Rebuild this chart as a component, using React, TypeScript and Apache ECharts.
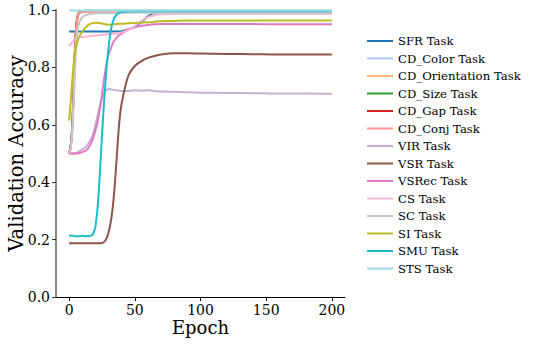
import React, { useEffect, useRef } from "react";
import * as echarts from "echarts";

const epochs = [0, 1, 2, 3, 4, 5, 6, 7, 8, 10, 12, 14, 16, 18, 20, 22, 24, 26, 28, 30, 32, 34, 36, 38, 40, 45, 50, 55, 60, 65, 70, 80, 90, 100, 120, 140, 160, 180, 200];

const seriesNames = ["SFR Task", "CD_Color Task", "CD_Orientation Task", "CD_Size Task", "CD_Gap Task", "CD_Conj Task", "VIR Task", "VSR Task", "VSRec Task", "CS Task", "SC Task", "SI Task", "SMU Task", "STS Task"];
const seriesColors = ["#1f77b4", "#aec7e8", "#ffbb78", "#2ca02c", "#d62728", "#ff9896", "#c5b0d5", "#8c564b", "#e377c2", "#f7b6d2", "#c7c7c7", "#bcbd22", "#17becf", "#9edae5"];

const sfr = [0.925, 0.925, 0.925, 0.925, 0.925, 0.925, 0.925, 0.925, 0.925, 0.925, 0.925, 0.925, 0.925, 0.925, 0.925, 0.925, 0.925, 0.925, 0.925, 0.925, 0.925, 0.925, 0.925, 0.925, 0.926, 0.932, 0.942, 0.958, 0.978, 0.99, 0.993, 0.994, 0.994, 0.994, 0.994, 0.994, 0.994, 0.994, 0.994];
const cdColor = [0.5, 0.52, 0.57, 0.68, 0.82, 0.92, 0.97, 0.988, 0.993, 0.995, 0.996, 0.996, 0.996, 0.996, 0.996, 0.996, 0.996, 0.996, 0.996, 0.996, 0.996, 0.996, 0.996, 0.996, 0.996, 0.996, 0.996, 0.996, 0.996, 0.996, 0.996, 0.996, 0.996, 0.996, 0.996, 0.996, 0.996, 0.996, 0.996];
const cdOrientation = [0.5, 0.52, 0.56, 0.66, 0.8, 0.91, 0.965, 0.985, 0.99, 0.993, 0.995, 0.995, 0.995, 0.995, 0.995, 0.995, 0.995, 0.995, 0.995, 0.995, 0.995, 0.995, 0.995, 0.995, 0.995, 0.995, 0.995, 0.995, 0.995, 0.995, 0.995, 0.995, 0.995, 0.995, 0.995, 0.995, 0.995, 0.995, 0.995];
const cdSize = [0.5, 0.52, 0.57, 0.67, 0.81, 0.92, 0.97, 0.987, 0.992, 0.995, 0.997, 0.997, 0.997, 0.997, 0.997, 0.997, 0.997, 0.997, 0.997, 0.997, 0.997, 0.997, 0.997, 0.997, 0.997, 0.997, 0.997, 0.997, 0.997, 0.997, 0.997, 0.997, 0.997, 0.997, 0.997, 0.997, 0.997, 0.997, 0.997];
const cdGap = [0.5, 0.52, 0.56, 0.66, 0.8, 0.91, 0.965, 0.985, 0.99, 0.993, 0.995, 0.995, 0.995, 0.995, 0.995, 0.995, 0.995, 0.995, 0.995, 0.995, 0.995, 0.995, 0.995, 0.995, 0.995, 0.995, 0.995, 0.995, 0.995, 0.995, 0.995, 0.995, 0.995, 0.995, 0.995, 0.995, 0.995, 0.995, 0.995];
const cdConj = [0.5, 0.52, 0.56, 0.66, 0.8, 0.91, 0.965, 0.985, 0.99, 0.993, 0.994, 0.994, 0.994, 0.994, 0.994, 0.994, 0.994, 0.994, 0.994, 0.994, 0.994, 0.994, 0.994, 0.994, 0.994, 0.994, 0.994, 0.994, 0.994, 0.994, 0.994, 0.994, 0.994, 0.994, 0.994, 0.994, 0.994, 0.994, 0.994];
const vir = [0.5, 0.5, 0.5, 0.5, 0.5, 0.501, 0.503, 0.506, 0.509, 0.514, 0.52, 0.53, 0.545, 0.565, 0.6, 0.64, 0.68, 0.705, 0.72, 0.725, 0.724, 0.721, 0.72, 0.719, 0.718, 0.718, 0.72, 0.719, 0.72, 0.718, 0.716, 0.715, 0.713, 0.712, 0.711, 0.71, 0.709, 0.709, 0.708];
const vsr = [0.187, 0.187, 0.187, 0.187, 0.187, 0.187, 0.187, 0.187, 0.187, 0.187, 0.187, 0.187, 0.187, 0.187, 0.187, 0.187, 0.187, 0.19, 0.2, 0.225, 0.27, 0.35, 0.47, 0.6, 0.675, 0.77, 0.805, 0.822, 0.833, 0.84, 0.845, 0.849, 0.849, 0.848, 0.847, 0.846, 0.845, 0.845, 0.845];
const vsrec = [0.5, 0.5, 0.5, 0.5, 0.5, 0.5, 0.5, 0.501, 0.502, 0.505, 0.508, 0.515, 0.53, 0.55, 0.58, 0.62, 0.67, 0.74, 0.8, 0.845, 0.87, 0.89, 0.903, 0.912, 0.918, 0.932, 0.94, 0.945, 0.948, 0.95, 0.951, 0.951, 0.951, 0.951, 0.951, 0.951, 0.95, 0.95, 0.95];
const cs = [0.872, 0.88, 0.886, 0.892, 0.897, 0.9, 0.902, 0.904, 0.905, 0.906, 0.907, 0.908, 0.909, 0.91, 0.911, 0.912, 0.913, 0.914, 0.915, 0.916, 0.917, 0.918, 0.919, 0.92, 0.922, 0.93, 0.945, 0.962, 0.975, 0.982, 0.985, 0.986, 0.986, 0.986, 0.986, 0.986, 0.986, 0.986, 0.986];
const sc = [0.5, 0.51, 0.55, 0.62, 0.73, 0.84, 0.91, 0.945, 0.96, 0.975, 0.981, 0.984, 0.986, 0.987, 0.988, 0.989, 0.989, 0.989, 0.989, 0.989, 0.989, 0.989, 0.989, 0.989, 0.99, 0.99, 0.99, 0.99, 0.99, 0.99, 0.99, 0.99, 0.99, 0.99, 0.99, 0.99, 0.99, 0.99, 0.99];
const si = [0.615, 0.67, 0.73, 0.79, 0.835, 0.865, 0.885, 0.9, 0.91, 0.925, 0.937, 0.946, 0.952, 0.955, 0.956, 0.955, 0.954, 0.952, 0.95, 0.949, 0.949, 0.95, 0.951, 0.952, 0.952, 0.954, 0.955, 0.956, 0.957, 0.959, 0.961, 0.962, 0.963, 0.963, 0.963, 0.963, 0.963, 0.963, 0.963];
const smu = [0.215, 0.214, 0.213, 0.213, 0.212, 0.212, 0.212, 0.212, 0.212, 0.213, 0.212, 0.212, 0.213, 0.218, 0.245, 0.33, 0.48, 0.64, 0.77, 0.87, 0.935, 0.968, 0.983, 0.99, 0.993, 0.995, 0.996, 0.996, 0.996, 0.996, 0.996, 0.996, 0.996, 0.996, 0.996, 0.996, 0.996, 0.996, 0.996];
const sts = [0.998, 0.998, 0.998, 0.998, 0.998, 0.998, 0.998, 0.998, 0.998, 0.998, 0.998, 0.998, 0.998, 0.998, 0.998, 0.998, 0.998, 0.998, 0.998, 0.998, 0.998, 0.998, 0.998, 0.998, 0.998, 0.998, 0.998, 0.998, 0.998, 0.998, 0.998, 0.998, 0.998, 0.998, 0.998, 0.998, 0.998, 0.998, 0.998];

const seriesValues = [sfr, cdColor, cdOrientation, cdSize, cdGap, cdConj, vir, vsr, vsrec, cs, sc, si, smu, sts];

const xTicks = [0, 50, 100, 150, 200];

const FONT = "'DejaVu Serif', serif";

export default function App() {
  const ref = useRef<HTMLDivElement>(null);
  useEffect(() => {
    if (!ref.current) return;
    const chart = echarts.init(ref.current, null, { renderer: "svg" });
    chart.setOption({
      animation: false,
      backgroundColor: "#ffffff",
      textStyle: { fontFamily: FONT },
      grid: { left: 56, right: 189, top: 10, bottom: 47, containLabel: false, outerBoundsMode: "none" },
      legend: {
        orient: "vertical",
        left: 367,
        top: 34,
        padding: 0,
        itemWidth: 26,
        itemHeight: 2,
        itemGap: 3.5,
        icon: "rect",
        textStyle: { fontFamily: FONT, fontSize: 11.7, color: "#000", lineHeight: 14 },
        data: seriesNames,
      },
      xAxis: {
        type: "value",
        min: -10,
        max: 210,
        name: "Epoch",
        nameLocation: "middle",
        nameGap: 21,
        nameMoveOverlap: false,
        nameTextStyle: { fontFamily: FONT, fontSize: 18, color: "#000" },
        axisLine: { show: true, onZero: false, lineStyle: { color: "#000", width: 1 } },
        axisTick: { show: true, length: 4, customValues: xTicks, lineStyle: { color: "#000" } },
        axisLabel: { customValues: xTicks, fontFamily: FONT, fontSize: 14, color: "#000", margin: 6 },
        splitLine: { show: false },
      },
      yAxis: {
        type: "value",
        min: 0,
        max: 1,
        interval: 0.2,
        name: "Validation Accuracy",
        nameLocation: "middle",
        nameGap: 30,
        nameMoveOverlap: false,
        nameTextStyle: { fontFamily: FONT, fontSize: 19.5, color: "#000", lineHeight: 20 },
        axisLine: { show: true, onZero: false, lineStyle: { color: "#888", width: 2 } },
        axisTick: { show: true, length: 4, lineStyle: { color: "#333" } },
        axisLabel: {
          fontFamily: FONT,
          fontSize: 14,
          color: "#000",
          margin: 6,
          formatter: (v: number) => v.toFixed(1),
        },
        splitLine: { show: false },
      },
      series: seriesNames.map((name, i) => ({
        name,
        type: "line",
        symbol: "none",
        smooth: 0.3,
        color: seriesColors[i],
        lineStyle: { width: 2, color: seriesColors[i] },
        data: epochs.map((e, j) => [e, seriesValues[i][j]]),
      })),
    });
    return () => chart.dispose();
  }, []);
  return <div ref={ref} style={{ position: "fixed", left: 0, top: 0, width: 534, height: 344 }} />;
}
